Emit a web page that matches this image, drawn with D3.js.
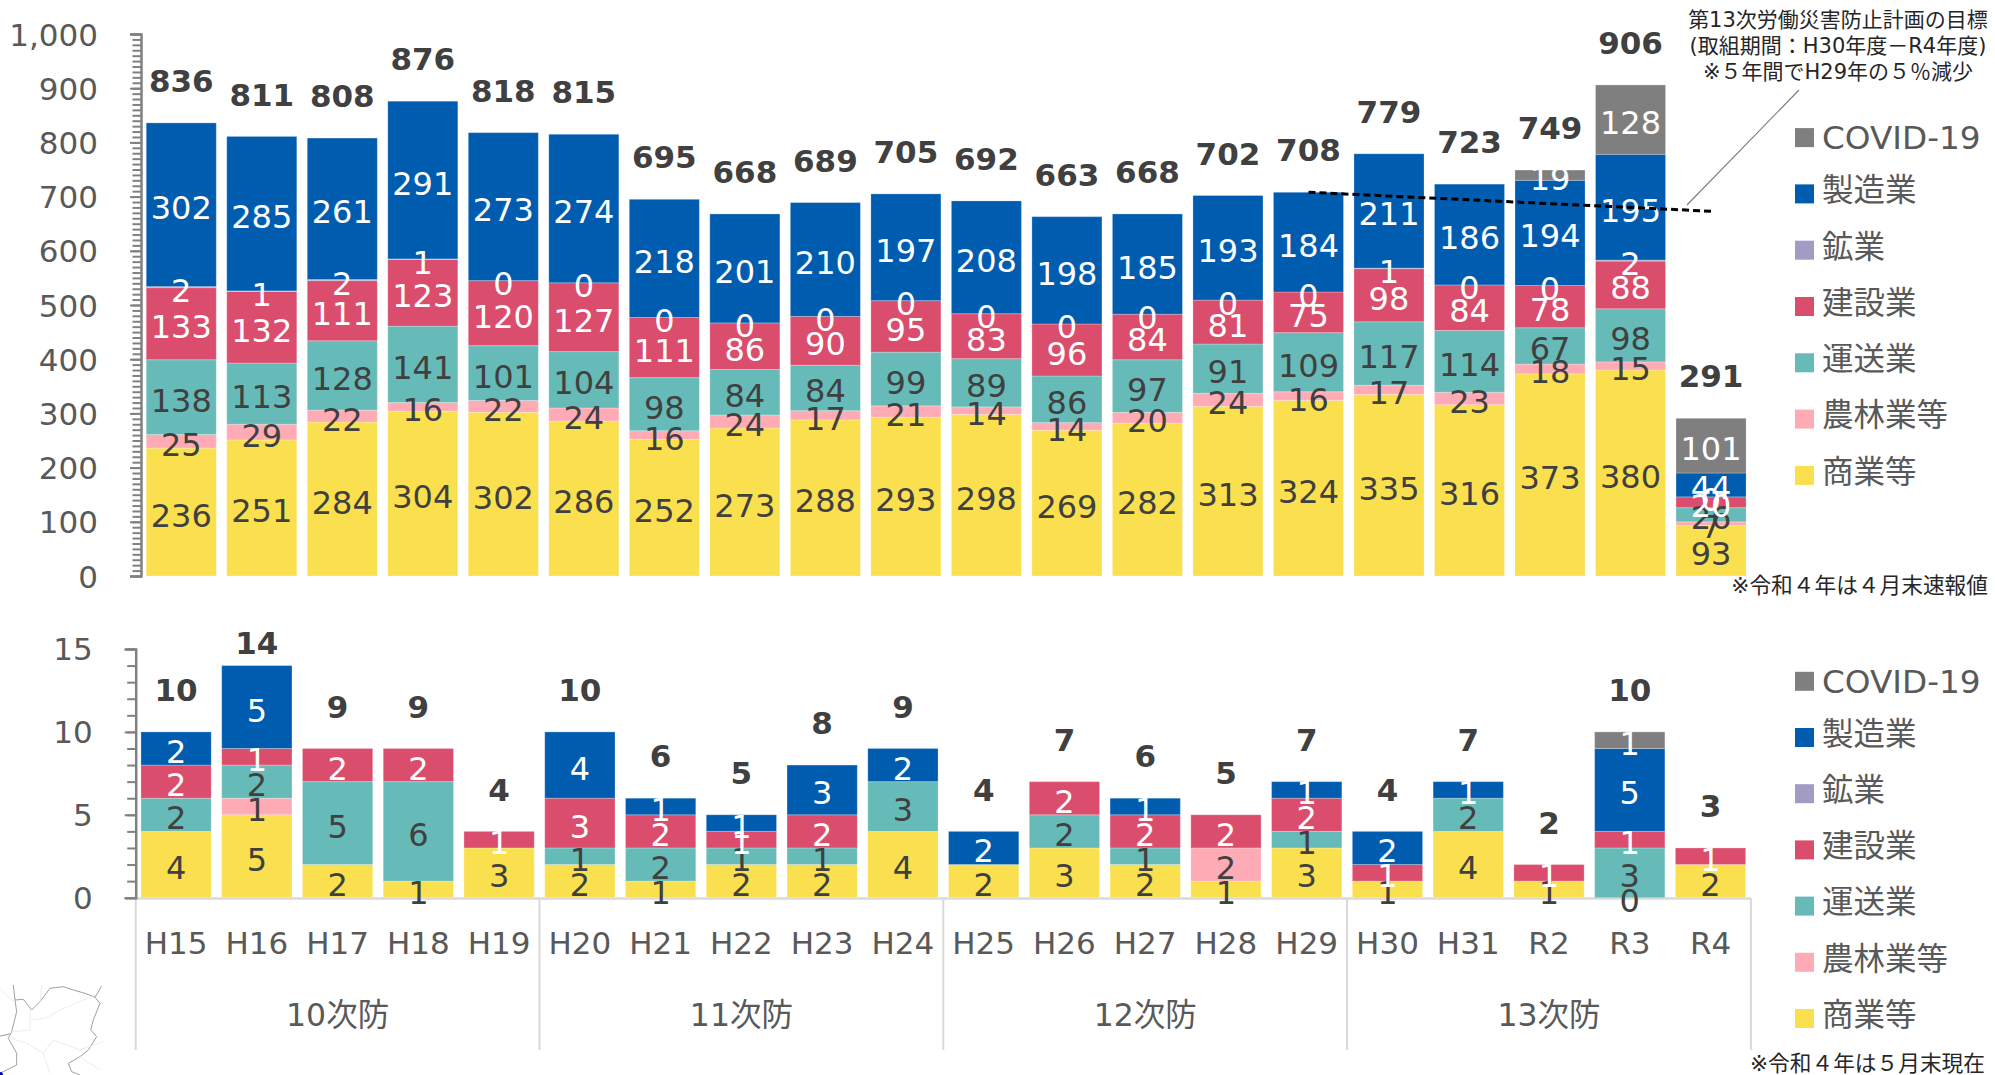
<!DOCTYPE html>
<html lang="ja">
<head>
<meta charset="utf-8">
<title>労働災害</title>
<script src="https://cdn.jsdelivr.net/npm/d3@7"></script>
<style>
  html, body { margin: 0; padding: 0; background: #fff; }
  svg { display: block; }
  text { font-family: "DejaVu Sans", "Noto Sans CJK JP", sans-serif; }
</style>
</head>
<body>
<div id="chart-container"></div>
<script>
const years = ["H15","H16","H17","H18","H19","H20","H21","H22","H23","H24","H25","H26","H27","H28","H29","H30","H31","R2","R3","R4"];
const periods = ["10次防","11次防","12次防","13次防"];
const legendNames = ["COVID-19","製造業","鉱業","建設業","運送業","農林業等","商業等"];
const seriesKeys = ["commerce","agri","transport","construction","mining","manufacturing","covid"];

// upper chart (null = no label in the original)
const commerceTop = [236,251,284,304,302,286,252,273,288,293,298,269,282,313,324,335,316,373,380,93];
const agriTop = [25,29,22,16,22,24,16,24,17,21,14,14,20,24,16,17,23,18,15,7];
const transportTop = [138,113,128,141,101,104,98,84,84,99,89,86,97,91,109,117,114,67,98,26];
const constructionTop = [133,132,111,123,120,127,111,86,90,95,83,96,84,81,75,98,84,78,88,20];
const miningTop = [2,1,2,1,0,0,0,0,0,0,0,0,0,0,0,1,0,0,2,0];
const manufacturingTop = [302,285,261,291,273,274,218,201,210,197,208,198,185,193,184,211,186,194,195,44];
const covidTop = [null,null,null,null,null,null,null,null,null,null,null,null,null,null,null,null,null,19,128,101];
const totalsTop = [836,811,808,876,818,815,695,668,689,705,692,663,668,702,708,779,723,749,906,291];

// lower chart
const commerceBottom = [4,5,2,1,3,2,1,2,2,4,2,3,2,1,3,1,4,1,0,2];
const agriBottom = [null,1,null,null,null,null,null,null,null,null,null,null,null,2,null,null,null,null,null,null];
const transportBottom = [2,2,5,6,null,1,2,1,1,3,null,2,1,null,1,null,2,null,3,null];
const constructionBottom = [2,1,2,2,1,3,2,1,2,null,null,2,2,2,2,1,null,1,1,1];
const miningBottom = years.map(() => null);
const manufacturingBottom = [2,5,null,null,null,4,1,1,3,2,2,null,1,null,1,2,1,null,5,null];
const covidBottom = [null,null,null,null,null,null,null,null,null,null,null,null,null,null,null,null,null,null,1,null];
const totalsBottom = [10,14,9,9,4,10,6,5,8,9,4,7,6,5,7,4,7,2,10,3];

// 13th plan target: 5% down from H29 by R4
const targetYears = ["H29","R4"];
const targetValues = [708,673];

const colors = { commerce:"#FAE04F", agri:"#FFABB5", transport:"#66BAB7", construction:"#DB4D6D", mining:"#A29BC3", manufacturing:"#005CAF", covid:"#7F7F7F" };
const whiteLabels = ["construction","mining","manufacturing","covid"];
const legendColors = [colors.covid, colors.manufacturing, colors.mining, colors.construction, colors.transport, colors.agri, colors.commerce];

const mapLines = [
  { stroke:"#a0a0a0", d:"M40,75L45,120L50,155L35,215L25,235L50,280L50,315L30,325L0,340M45,120L70,118L95,150L120,125L150,85L190,80L220,90L255,100L285,112L300,130L280,180L272,210L290,230L265,270L240,290L205,310L215,335L240,345M305,78L285,112M30,222L0,228" },
  { stroke:"#ececec", d:"M0,85L40,125M125,75L120,125M95,180L135,175L180,150L285,105M90,150L90,210L40,215M35,235L80,250L130,280L160,240L240,270L310,245M130,280L150,340M240,290L300,330" }
];

const svg = d3.select("#chart-container")
  .append("svg")
    .attr("width", 1995)
    .attr("height", 1075);

function stackData(cols) {
  return years.map((year, i) => {
    const row = { year };
    seriesKeys.forEach(k => { row[k] = cols[k][i]; });
    return row;
  });
}

function drawBars(rows, totals, x, y, maxLabelY) {
  const stacked = d3.stack().keys(seriesKeys).value((d, k) => d[k] || 0)(rows);

  stacked.forEach(layer => {
    svg.append("g").selectAll("rect")
      .data(layer)
      .join("rect")
        .attr("x", d => x(d.data.year))
        .attr("width", x.bandwidth())
        .attr("y", d => y(d[1]))
        .attr("height", d => y(d[0]) - y(d[1]))
        .attr("fill", colors[layer.key])
        .attr("stroke", "#fff")
        .attr("stroke-opacity", d => d[1] > d[0] ? .25 : 0)
        .attr("stroke-width", 1);
  });

  stacked.forEach(layer => {
    svg.append("g").selectAll("text")
      .data(layer.filter(d => d.data[layer.key] !== null))
      .join("text")
        .attr("x", d => x(d.data.year) + x.bandwidth() / 2)
        .attr("y", d => (y(d[0]) + y(d[1])) / 2 + 3)
        .attr("dy", ".36em")
        .attr("text-anchor", "middle")
        .style("font-size", "32px")
        .style("fill", whiteLabels.includes(layer.key) ? "#fff" : "#404040")
        .text(d => d.data[layer.key]);
  });

  svg.append("g").selectAll("text")
    .data(totals)
    .join("text")
      .attr("x", (d, i) => x(years[i]) + x.bandwidth() / 2)
      .attr("y", d => Math.max(y(d) - 42, maxLabelY))
      .attr("dy", ".36em")
      .attr("text-anchor", "middle")
      .style("font-size", "31px")
      .style("font-weight", "bold")
      .style("fill", "#404040")
      .text(d => d);
}

function drawYAxis(y, axisX, majors, minors, fmt) {
  const minorAxis = svg.append("g")
    .attr("transform", `translate(${axisX},0)`)
    .call(d3.axisLeft(y).tickValues(minors).tickSize(8.5).tickFormat(""));
  minorAxis.selectAll("line").attr("stroke", "#808080").attr("stroke-width", 2);
  minorAxis.select(".domain").remove();

  const majorAxis = svg.append("g")
    .attr("transform", `translate(${axisX},0)`)
    .call(d3.axisLeft(y).tickValues(majors).tickSize(11).tickPadding(0).tickFormat(fmt));
  majorAxis.select(".domain").attr("stroke", "#808080").attr("stroke-width", 2.5);
  majorAxis.selectAll("line").attr("stroke", "#808080").attr("stroke-width", 2);
  return majorAxis;
}

function drawLegend(firstY, step) {
  legendNames.forEach((name, i) => {
    const cy = firstY + i * step;
    svg.append("rect")
      .attr("x", 1795).attr("y", cy - 9.5)
      .attr("width", 19).attr("height", 19)
      .attr("fill", legendColors[i]);
    // the kanji sit a little higher than the swatch in the original
    svg.append("text")
      .attr("x", 1822).attr("y", i === 0 ? cy : cy - 4)
      .attr("dy", ".36em")
      .style("font-size", i === 0 ? "32.7px" : "31.5px")
      .style("fill", "#595959")
      .text(name);
  });
}

// ---- upper chart ----
const xTop = d3.scaleBand().domain(years).range([141, 1751.3]).paddingInner(.13).paddingOuter(.065);
const yTop = d3.scaleLinear().domain([0, 1000]).range([576, 34]);

const rowsTop = stackData({ commerce:commerceTop, agri:agriTop, transport:transportTop, construction:constructionTop, mining:miningTop, manufacturing:manufacturingTop, covid:covidTop });
drawBars(rowsTop, totalsTop, xTop, yTop, 0);

const axisTop = drawYAxis(yTop, 141, d3.range(0, 1001, 100), d3.range(0, 1001, 10), d3.format(","));
axisTop.selectAll("text")
  .attr("x", -43).attr("dy", ".36em")
  .style("font-size", "31px").style("fill", "#595959")
  .style("font-family", '"DejaVu Sans", sans-serif');

// target line and its leader
svg.append("path")
  .datum(targetYears.map((yr, i) => [xTop(yr) + xTop.bandwidth() / 2, yTop(targetValues[i])]))
  .attr("fill", "none")
  .attr("stroke", "#000")
  .attr("stroke-width", 3)
  .attr("stroke-dasharray", "7 4")
  .attr("d", d3.line());

svg.append("line")
  .attr("x1", 1799).attr("y1", 90)
  .attr("x2", 1687).attr("y2", 205)
  .attr("stroke", "#7F7F7F")
  .attr("stroke-width", 1.2);

const noteLines = ["第13次労働災害防止計画の目標", "(取組期間：H30年度－R4年度)", "※５年間でH29年の５％減少"];
svg.append("g").selectAll("text")
  .data(noteLines)
  .join("text")
    .attr("x", 1838)
    .attr("y", (d, i) => 19 + i * 26)
    .attr("dy", ".36em")
    .attr("text-anchor", "middle")
    .style("font-size", "21px")
    .style("fill", "#262626")
    .text(d => d);

drawLegend(137.6, 56.3);

svg.append("text")
  .attr("x", 1988).attr("y", 585)
  .attr("dy", ".36em")
  .attr("text-anchor", "end")
  .style("font-size", "21.7px")
  .style("fill", "#262626")
  .text("※令和４年は４月末速報値");

// ---- lower chart ----
const xBottom = d3.scaleBand().domain(years).range([135.7, 1750.9]).paddingInner(.13).paddingOuter(.065);
const yBottom = d3.scaleLinear().domain([0, 15]).range([897.7, 649]);

const rowsBottom = stackData({ commerce:commerceBottom, agri:agriBottom, transport:transportBottom, construction:constructionBottom, mining:miningBottom, manufacturing:manufacturingBottom, covid:covidBottom });

// baseline and period dividers go under the labels
svg.append("line")
  .attr("x1", 135.7).attr("x2", 1750.9)
  .attr("y1", 898.5).attr("y2", 898.5)
  .attr("stroke", "#D9D9D9").attr("stroke-width", 2.5);

const dividerX = d3.range(0, periods.length + 1).map(i => i === periods.length ? 1750.9 : xBottom.step() * i * 5 + 135.7);
svg.append("g").selectAll("line")
  .data(dividerX)
  .join("line")
    .attr("x1", d => d).attr("x2", d => d)
    .attr("y1", 898).attr("y2", 1050)
    .attr("stroke", "#D9D9D9").attr("stroke-width", 2);

drawBars(rowsBottom, totalsBottom, xBottom, yBottom, 643);

const axisBottom = drawYAxis(yBottom, 135.7, d3.range(0, 16, 5), d3.range(0, 16, 1), d3.format("d"));
axisBottom.selectAll("text")
  .attr("x", -43).attr("dy", ".34em")
  .style("font-size", "31px").style("fill", "#595959")
  .style("font-family", '"DejaVu Sans", sans-serif');

svg.append("g").selectAll("text")
  .data(years)
  .join("text")
    .attr("x", d => xBottom(d) + xBottom.bandwidth() / 2)
    .attr("y", 943)
    .attr("dy", ".36em")
    .attr("text-anchor", "middle")
    .style("font-size", "31px")
    .style("fill", "#595959")
    .text(d => d);

svg.append("g").selectAll("text")
  .data(periods)
  .join("text")
    .attr("x", (d, i) => (dividerX[i] + dividerX[i + 1]) / 2)
    .attr("y", 1015)
    .attr("dy", ".36em")
    .attr("text-anchor", "middle")
    .style("font-size", "31.5px")
    .style("fill", "#595959")
    .text(d => d);

drawLegend(681.3, 56.2);

svg.append("text")
  .attr("x", 1985).attr("y", 1063)
  .attr("dy", ".36em")
  .attr("text-anchor", "end")
  .style("font-size", "21.7px")
  .style("fill", "#262626")
  .text("※令和４年は５月末現在");

// scrap of map peeking in at the bottom left corner
const mapGroup = svg.append("g").attr("transform", "translate(0,960) scale(.3333)");
mapGroup.selectAll("path")
  .data(mapLines)
  .join("path")
    .attr("d", d => d.d)
    .attr("fill", "none")
    .attr("stroke", d => d.stroke)
    .attr("stroke-width", 3);
mapGroup.append("circle")
  .attr("cx", 0).attr("cy", 345)
  .attr("r", 9)
  .attr("fill", "#0000b0");
</script>
</body>
</html>
